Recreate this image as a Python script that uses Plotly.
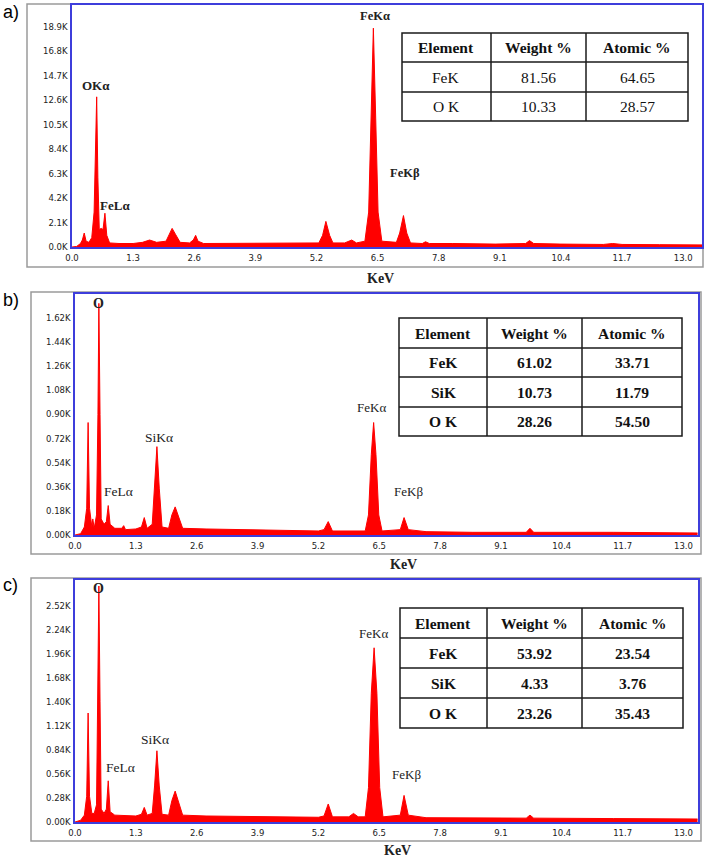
import plotly.graph_objects as go

W, H = 708, 862

# ---------------- data (counts in K) ----------------
a_energy = [0.00, 0.10, 0.18, 0.22, 0.26, 0.30, 0.36, 0.42, 0.47, 0.50, 0.525, 0.55, 0.58, 0.62, 0.66,
            0.70, 0.74, 0.80, 1.00, 1.30, 1.50, 1.65, 1.80, 2.00, 2.08, 2.13, 2.20, 2.30, 2.50, 2.58,
            2.63, 2.68, 2.80, 3.20, 3.60, 4.00, 4.40, 4.80, 5.25, 5.33, 5.40, 5.48, 5.55, 5.80, 5.95,
            6.05, 6.23, 6.31, 6.36, 6.41, 6.46, 6.51, 6.59, 6.90, 6.97, 7.05, 7.12, 7.20, 7.45, 7.52,
            7.60, 8.00, 8.05, 8.10, 9.00, 9.65, 9.73, 9.82, 10.4, 11.3, 11.5, 11.7, 12.5, 13.4]
a_counts = [0.00, 0.05, 0.30, 0.60, 1.20, 0.50, 0.40, 0.80, 3.00, 9.00, 12.9, 6.00, 1.50, 1.60, 1.50,
            2.90, 1.00, 0.35, 0.30, 0.30, 0.40, 0.60, 0.40, 0.50, 1.20, 1.60, 1.10, 0.40, 0.35, 0.60,
            1.00, 0.50, 0.30, 0.30, 0.30, 0.30, 0.30, 0.30, 0.35, 1.00, 2.20, 1.00, 0.35, 0.35, 0.60,
            0.35, 0.50, 3.00, 11.0, 18.8, 11.0, 3.00, 0.50, 0.40, 1.20, 2.70, 1.20, 0.35, 0.30, 0.45,
            0.30, 0.30, 0.35, 0.30, 0.25, 0.30, 0.55, 0.30, 0.25, 0.22, 0.30, 0.22, 0.20, 0.18]

b_energy = [0.00, 0.12, 0.20, 0.25, 0.28, 0.31, 0.36, 0.38, 0.41, 0.46, 0.49, 0.51, 0.535, 0.56, 0.62,
            0.67, 0.71, 0.75, 0.85, 1.00, 1.04, 1.08, 1.30, 1.42, 1.48, 1.54, 1.65, 1.70, 1.75, 1.80,
            1.86, 2.00, 2.07, 2.14, 2.20, 2.30, 2.80, 3.40, 4.00, 4.60, 5.20, 5.32, 5.41, 5.50, 6.20,
            6.27, 6.33, 6.38, 6.43, 6.49, 6.56, 6.95, 7.03, 7.12, 7.50, 8.50, 9.64, 9.72, 9.80, 11.5,
            13.3]
b_counts = [0.000, 0.010, 0.060, 0.200, 0.840, 0.200, 0.060, 0.120, 0.050, 0.150, 0.900, 1.730, 0.900,
            0.120, 0.080, 0.100, 0.220, 0.080, 0.050, 0.050, 0.070, 0.040, 0.045, 0.060, 0.130, 0.050,
            0.080, 0.350, 0.660, 0.350, 0.060, 0.050, 0.150, 0.210, 0.150, 0.050, 0.045, 0.040, 0.035,
            0.035, 0.030, 0.040, 0.100, 0.030, 0.030, 0.150, 0.600, 0.840, 0.600, 0.150, 0.030, 0.040,
            0.130, 0.040, 0.025, 0.020, 0.020, 0.050, 0.020, 0.020, 0.015]

c_energy = [0.00, 0.12, 0.20, 0.25, 0.28, 0.31, 0.36, 0.41, 0.46, 0.49, 0.51, 0.535, 0.56, 0.62, 0.67,
            0.71, 0.75, 0.85, 1.00, 1.30, 1.42, 1.48, 1.54, 1.65, 1.70, 1.75, 1.80, 1.86, 2.00, 2.07,
            2.14, 2.20, 2.30, 2.80, 3.40, 4.00, 4.60, 5.20, 5.32, 5.41, 5.50, 5.85, 5.95, 6.05, 6.20,
            6.27, 6.33, 6.39, 6.45, 6.51, 6.58, 6.95, 7.03, 7.12, 7.50, 8.50, 9.64, 9.72, 9.80, 11.5,
            13.3]
c_counts = [0.000, 0.020, 0.080, 0.300, 1.270, 0.300, 0.100, 0.100, 0.200, 1.400, 2.750, 1.400, 0.150,
            0.100, 0.150, 0.480, 0.120, 0.080, 0.075, 0.070, 0.090, 0.170, 0.080, 0.100, 0.420, 0.830,
            0.420, 0.090, 0.080, 0.250, 0.360, 0.250, 0.080, 0.070, 0.065, 0.060, 0.060, 0.055, 0.070,
            0.210, 0.060, 0.060, 0.100, 0.060, 0.060, 0.400, 1.500, 2.030, 1.500, 0.400, 0.060, 0.080,
            0.310, 0.080, 0.050, 0.045, 0.045, 0.080, 0.045, 0.040, 0.035]

x_ticks = [0.0, 1.3, 2.6, 3.9, 5.2, 6.5, 7.8, 9.1, 10.4, 11.7, 13.0]
a_yticks = [0.0, 2.1, 4.2, 6.3, 8.4, 10.5, 12.6, 14.7, 16.8, 18.9]
b_yticks = [0.00, 0.18, 0.36, 0.54, 0.72, 0.90, 1.08, 1.26, 1.44, 1.62]
c_yticks = [0.00, 0.28, 0.56, 0.84, 1.12, 1.40, 1.68, 1.96, 2.24, 2.52]

table_header = ["Element", "Weight %", "Atomic %"]
a_elements = ["FeK", "O K"]
a_weight = ["81.56", "10.33"]
a_atomic = ["64.65", "28.57"]
b_elements = ["FeK", "SiK", "O K"]
b_weight = ["61.02", "10.73", "28.26"]
b_atomic = ["33.71", "11.79", "54.50"]
c_elements = ["FeK", "SiK", "O K"]
c_weight = ["53.92", "4.33", "23.26"]
c_atomic = ["23.54", "3.76", "35.43"]

# ---------------- helpers ----------------
def px(x):
    return x / W

def py(y):
    return 1 - y / H

fig = go.Figure()
shapes = []
annotations = []

BLUE = "#3d3ddb"
RED = "#ff0000"
SERIF = "Liberation Serif"

panels = [
    dict(name="a)", e=a_energy, c=a_counts, yt=a_yticks, fmt="{:.1f}K",
         plot=(72, 702, 5, 247), outer=(27, 703, 4, 267), xmax=13.40, ymax=20.79,
         label_y=12, kev=(380, 278),
         table=(402, 688, 33, 121, [491, 586], [62, 92]), els=a_elements, wt=a_weight, at=a_atomic,
         body_bold=False,
         peaks=[("OKα", 96, 86, 13, True), ("FeLα", 115, 205, 13, True),
                ("FeKα", 375, 16, 12.5, True), ("FeKβ", 405, 173, 12.5, True)]),
    dict(name="b)", e=b_energy, c=b_counts, yt=b_yticks, fmt="{:.2f}K",
         plot=(75, 698, 294, 535), outer=(31, 701, 292, 554), xmax=13.31, ymax=1.80,
         label_y=300, kev=(403, 564),
         table=(399, 682, 318, 436, [487, 582], [348, 377, 407]), els=b_elements, wt=b_weight, at=b_atomic,
         body_bold=True,
         peaks=[("O", 99, 303, 14, True), ("SiKα", 159, 437, 13.5, False), ("FeLα", 118, 491, 13.5, False),
                ("FeKα", 371, 408, 13, False), ("FeKβ", 408, 491, 13, False)]),
    dict(name="c)", e=c_energy, c=c_counts, yt=c_yticks, fmt="{:.2f}K",
         plot=(75, 698, 580, 822), outer=(31, 701, 578, 841), xmax=13.31, ymax=2.82,
         label_y=585, kev=(397, 850),
         table=(400, 683, 608, 728, [487, 582], [638, 668, 698]), els=c_elements, wt=c_weight, at=c_atomic,
         body_bold=True,
         peaks=[("O", 99, 588, 14, True), ("SiKα", 155, 739, 13.5, False), ("FeLα", 120, 767, 13.5, False),
                ("FeKα", 373, 633, 13, False), ("FeKβ", 406, 774, 13, False)]),
]

layout_axes = {}
for i, p in enumerate(panels):
    n = "" if i == 0 else str(i + 1)
    x0, x1, y0, y1 = p["plot"]
    fig.add_trace(go.Scatter(
        x=p["e"], y=p["c"], mode="lines", fill="tozeroy",
        line=dict(color=RED, width=1), fillcolor=RED,
        xaxis="x" + n, yaxis="y" + n, showlegend=False, hoverinfo="skip"))
    layout_axes["xaxis" + n] = dict(
        domain=[px(x0), px(x1)], range=[0, p["xmax"]], anchor="y" + n,
        tickvals=x_ticks, ticktext=[f"{v:.1f}" for v in x_ticks],
        showgrid=False, zeroline=False, showline=True, mirror=True,
        linecolor=BLUE, linewidth=1.5, ticks="", ticklabelstandoff=2, automargin=False,
        tickfont=dict(family="DejaVu Sans", size=8.5, color="#222222"))
    layout_axes["yaxis" + n] = dict(
        domain=[py(y1), py(y0)], range=[0, p["ymax"]], anchor="x" + n,
        tickvals=p["yt"], ticktext=[p["fmt"].format(v) for v in p["yt"]],
        showgrid=False, zeroline=False, showline=True, mirror=True,
        linecolor=BLUE, linewidth=1.5, ticks="", ticklabelstandoff=1, automargin=False,
        tickfont=dict(family="DejaVu Sans", size=8.5, color="#222222"))

    # outer gray frame
    ox0, ox1, oy0, oy1 = p["outer"]
    shapes.append(dict(type="rect", xref="paper", yref="paper",
                       x0=px(ox0), x1=px(ox1), y0=py(oy1), y1=py(oy0),
                       line=dict(color="#9a9a9a", width=1.5), layer="below"))
    # panel label
    annotations.append(dict(text=p["name"], xref="paper", yref="paper", x=px(1), y=py(p["label_y"]),
                            xanchor="left", yanchor="middle", showarrow=False,
                            font=dict(family="Liberation Sans", size=18, color="#000000")))
    # KeV label
    annotations.append(dict(text="<b>KeV</b>", xref="paper", yref="paper", x=px(p["kev"][0]), y=py(p["kev"][1]),
                            xanchor="center", yanchor="middle", showarrow=False,
                            font=dict(family=SERIF, size=14, color="#222222")))
    # peak labels
    for txt, lx, ly, fs, bold in p["peaks"]:
        annotations.append(dict(text=f"<b>{txt}</b>" if bold else txt, xref="paper", yref="paper",
                                x=px(lx), y=py(ly), xanchor="center", yanchor="middle", showarrow=False,
                                font=dict(family=SERIF, size=fs, color="#222222")))
    # table
    tx0, tx1, ty0, ty1, cols, rows = p["table"]
    shapes.append(dict(type="rect", xref="paper", yref="paper", x0=px(tx0), x1=px(tx1),
                       y0=py(ty1), y1=py(ty0), line=dict(color="#1a1a1a", width=1.5),
                       fillcolor="white"))
    for cx in cols:
        shapes.append(dict(type="line", xref="paper", yref="paper", x0=px(cx), x1=px(cx),
                           y0=py(ty1), y1=py(ty0), line=dict(color="#1a1a1a", width=1.5)))
    for ry in rows:
        shapes.append(dict(type="line", xref="paper", yref="paper", x0=px(tx0), x1=px(tx1),
                           y0=py(ry), y1=py(ry), line=dict(color="#1a1a1a", width=1.5)))
    col_edges = [tx0] + cols + [tx1]
    row_edges = [ty0] + rows + [ty1]
    grid = [table_header] + [[e, w, a] for e, w, a in zip(p["els"], p["wt"], p["at"])]
    for r, row in enumerate(grid):
        cy = (row_edges[r] + row_edges[r + 1]) / 2
        for cidx, val in enumerate(row):
            cxm = (col_edges[cidx] + col_edges[cidx + 1]) / 2
            bold = (r == 0) or p["body_bold"]
            annotations.append(dict(text=f"<b>{val}</b>" if bold else val, xref="paper", yref="paper",
                                    x=px(cxm), y=py(cy), xanchor="center", yanchor="middle",
                                    showarrow=False,
                                    font=dict(family=SERIF, size=15.5, color="#111111")))

fig.update_layout(width=W, height=H, margin=dict(l=0, r=0, t=0, b=0, pad=0, autoexpand=False),
                  paper_bgcolor="white", plot_bgcolor="white", hovermode=False,
                  shapes=shapes, annotations=annotations, **layout_axes)

fig.write_html("out.html", config={"displayModeBar": False},
               post_script="document.body.style.margin='0';document.body.style.overflow='hidden';")
